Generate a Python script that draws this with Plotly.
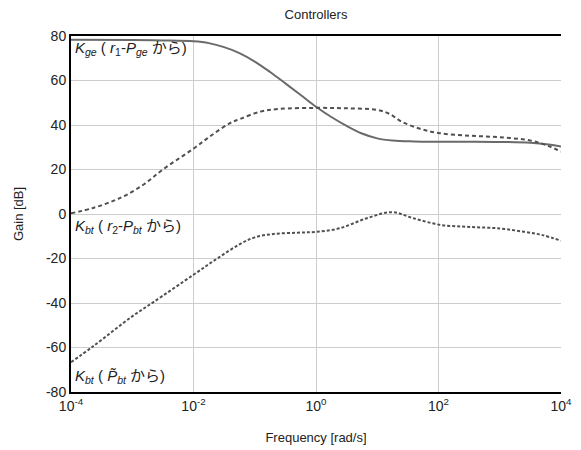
import plotly.graph_objects as go

# Frequencies [rad/s] and gains [dB]
freq_ge = [1e-4, 1e-3, 3.16e-3, 1e-2, 1.78e-2, 3.16e-2, 5.62e-2, 0.1, 0.178, 0.316, 0.562, 1.0, 1.78, 3.16, 5.62, 10.0, 17.8, 39.8, 100, 316, 1000, 3162, 6310, 1e4]
gain_ge = [78.3, 78.2, 78.0, 77.6, 76.8, 75.0, 72.3, 68.5, 63.8, 58.7, 53.5, 48.2, 43.6, 39.6, 36.2, 34.0, 33.0, 32.6, 32.5, 32.5, 32.4, 32.0, 31.2, 30.3]

freq_bt_r2 = [1e-4, 2.29e-4, 5.0e-4, 8.1e-4, 1.58e-3, 3.16e-3, 1e-2, 2.0e-2, 3.98e-2, 5.75e-2, 0.123, 0.251, 1.0, 3.16, 10.0, 15.8, 25.1, 50.1, 100, 316, 1000, 3162, 6310, 1e4]
gain_bt_r2 = [0.3, 2.7, 6.0, 8.6, 13.5, 20.0, 29.4, 35.5, 40.9, 42.7, 46.0, 47.2, 47.7, 47.5, 46.8, 45.0, 41.5, 38.3, 36.4, 35.2, 34.5, 33.0, 30.5, 28.0]

freq_bt_p = [1e-4, 2.29e-4, 1e-3, 2.19e-3, 1e-2, 2.5e-2, 5.75e-2, 0.1, 0.2, 0.5, 1.0, 2.45, 6.76, 17.4, 38.9, 107, 316, 1000, 2512, 5012, 1e4]
gain_bt_p = [-66.6, -59.5, -46.0, -39.7, -27.3, -19.8, -13.5, -10.5, -9.0, -8.4, -8.0, -6.4, -1.9, 0.8, -1.9, -4.9, -5.8, -6.5, -8.0, -9.5, -12.0]

x_tickvals = [1e-4, 1e-2, 1, 1e2, 1e4]
x_ticktext = ["10<sup>-4</sup>", "10<sup>-2</sup>", "10<sup>0</sup>", "10<sup>2</sup>", "10<sup>4</sup>"]
y_tickvals = [-80, -60, -40, -20, 0, 20, 40, 60, 80]
y_ticktext = ["-80", "-60", "-40", "-20", "0", "20", "40", "60", "80"]

FONT = "Liberation Sans, Arial, Noto Sans CJK JP, sans-serif"

fig = go.Figure()
fig.add_trace(go.Scatter(x=freq_ge, y=gain_ge, mode="lines", line=dict(color="#6a6a6a", width=2, shape="spline"), showlegend=False))
fig.add_trace(go.Scatter(x=freq_bt_r2, y=gain_bt_r2, mode="lines", line=dict(color="#505050", width=2, dash="4px,3px", shape="spline"), showlegend=False))
fig.add_trace(go.Scatter(x=freq_bt_p, y=gain_bt_p, mode="lines", line=dict(color="#505050", width=2, dash="3px,2px", shape="spline"), showlegend=False))

labels = [
    ("<i>K</i><sub><i>ge</i></sub> ( <i>r</i><sub>1</sub>-<i>P</i><sub><i>ge</i></sub> から)", 74.4),
    ("<i>K</i><sub><i>bt</i></sub> ( <i>r</i><sub>2</sub>-<i>P</i><sub><i>bt</i></sub> から)", -5.4),
    ("<i>K</i><sub><i>bt</i></sub> ( <i>P̃</i><sub><i>bt</i></sub> から)", -73),
]
for txt, yv in labels:
    fig.add_annotation(x=-4, y=yv, xref="x", yref="y", text=txt, showarrow=False,
                       xanchor="left", yanchor="middle", xshift=2,
                       font=dict(family=FONT, size=15, color="#222"))

fig.update_layout(
    width=581, height=450,
    margin=dict(l=71, r=20, t=36, b=58),
    paper_bgcolor="white", plot_bgcolor="white",
    title=dict(text="Controllers", x=0.5, xref="paper", xanchor="center", y=0.967, yanchor="middle",
               font=dict(family=FONT, size=13, color="#222")),
    font=dict(family=FONT, size=13, color="#222"),
)
fig.update_xaxes(type="log", range=[-4, 4], tickvals=x_tickvals, ticktext=x_ticktext,
                 showgrid=True, gridcolor="#cdcdcd", gridwidth=1,
                 showline=True, linecolor="black", linewidth=2, mirror=True,
                 ticks="", zeroline=False, automargin=False,
                 title=dict(text="Frequency [rad/s]", font=dict(size=13), standoff=20),
                 tickfont=dict(size=14))
fig.update_yaxes(range=[-80, 80], tickvals=y_tickvals, ticktext=y_ticktext,
                 showgrid=True, gridcolor="#cdcdcd", gridwidth=1,
                 showline=True, linecolor="black", linewidth=2,
                 ticks="", zeroline=False, automargin=False,
                 title=dict(text="Gain [dB]", font=dict(size=13), standoff=19),
                 tickfont=dict(size=14))

fig.write_html("out.html", config={"displayModeBar": False},
               post_script="document.body.style.margin='0';document.body.style.padding='0';")
